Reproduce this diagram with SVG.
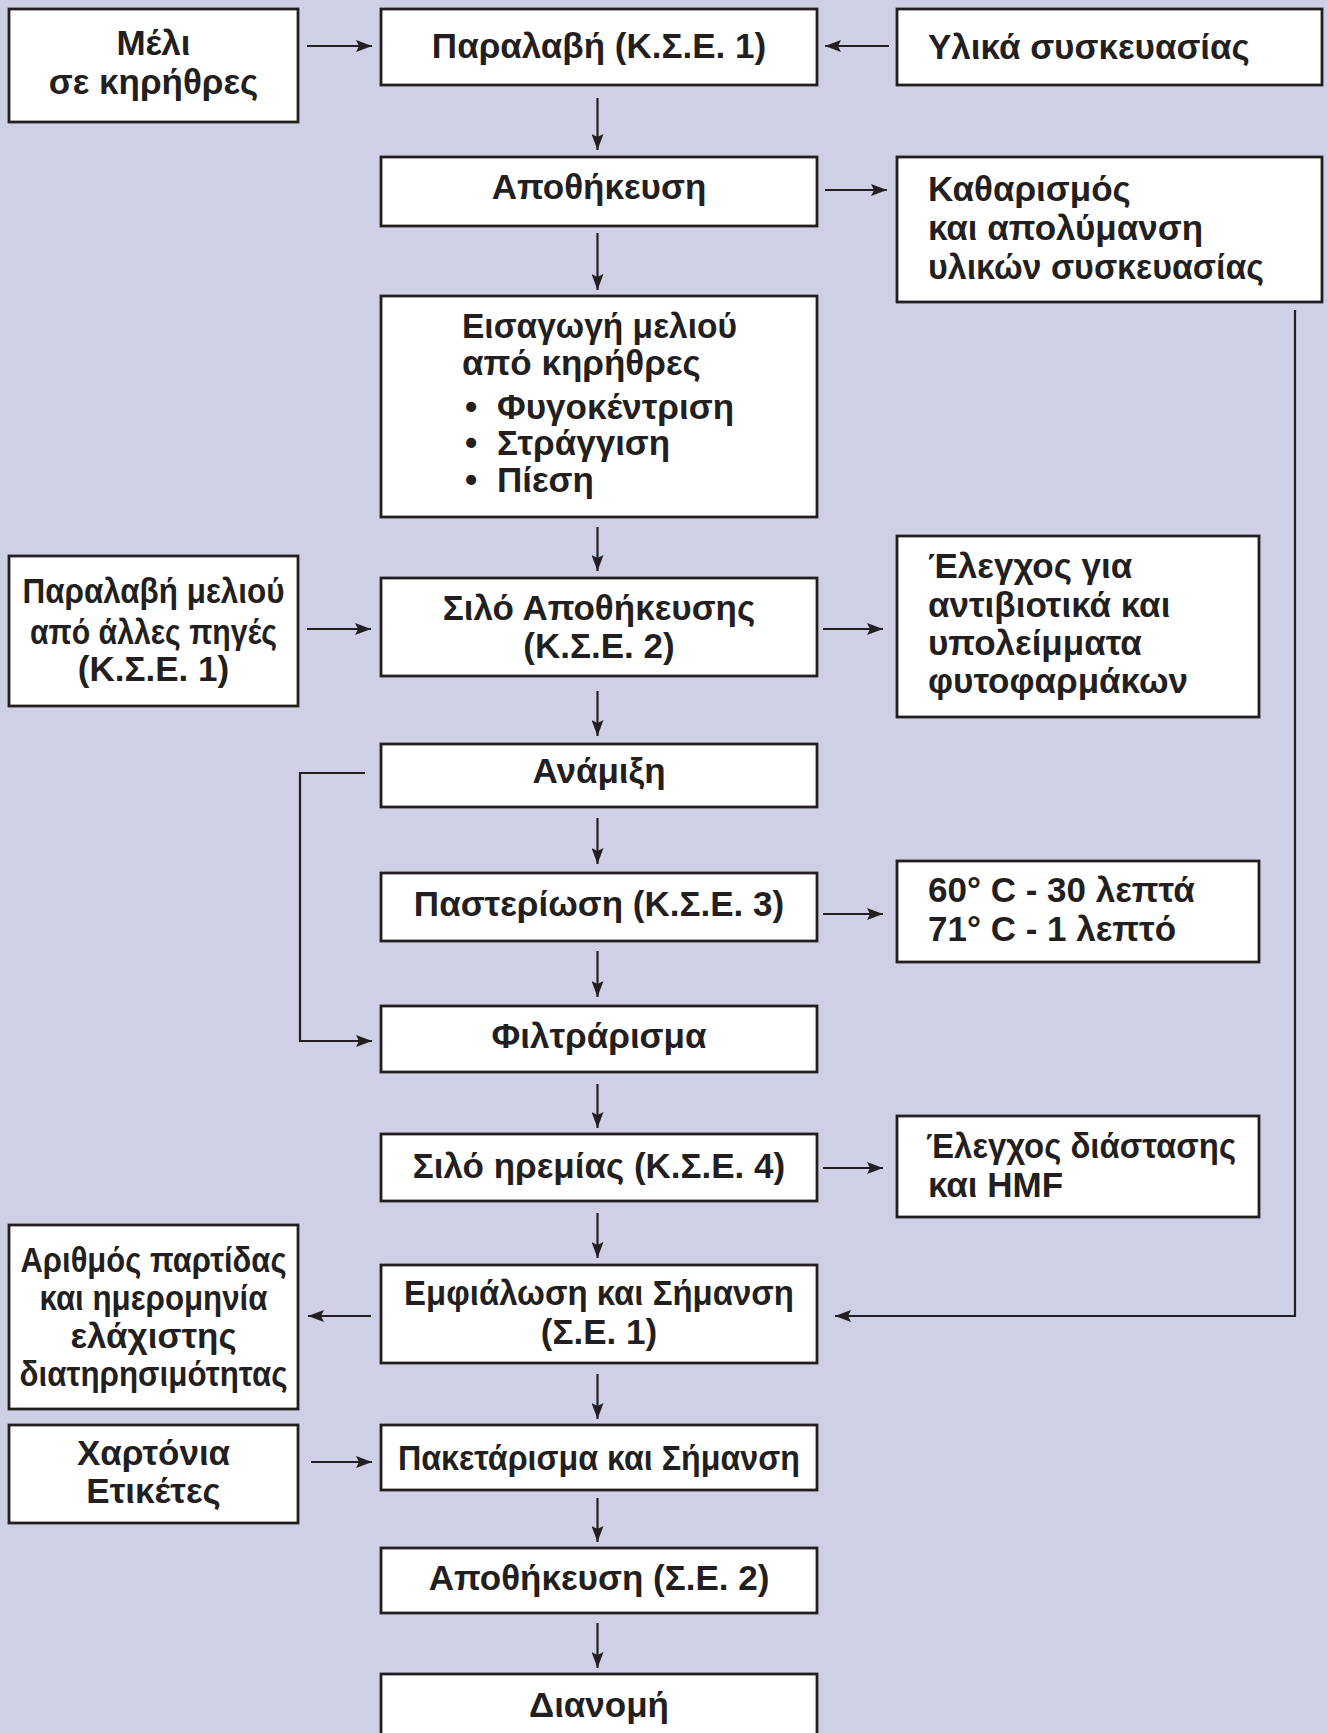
<svg xmlns="http://www.w3.org/2000/svg" width="1327" height="1733" viewBox="0 0 1327 1733">
<style>
.bg{fill:#cfd0e6}
.box{fill:#ffffff;stroke:#231f20;stroke-width:2.8}
.t{font-family:"Liberation Sans",Arial,sans-serif;font-weight:bold;font-size:35px;fill:#231f20}
.c{text-anchor:middle}
.l{text-anchor:start}
.con{fill:none;stroke:#231f20;stroke-width:2.2}
</style>
<defs>
<marker id="ah" viewBox="0 0 16 12" refX="16" refY="6" markerWidth="16" markerHeight="12" markerUnits="userSpaceOnUse" orient="auto">
<path d="M0,0 L16,6 L0,12 L3,6 z" fill="#231f20"/>
</marker>
</defs>
<rect class="bg" x="0" y="0" width="1327" height="1733"/>

<g id="connectors">
<line class="con" x1="307" y1="46" x2="372" y2="46" marker-end="url(#ah)"/>
<line class="con" x1="889" y1="46" x2="825" y2="46" marker-end="url(#ah)"/>
<line class="con" x1="597.5" y1="98" x2="597.5" y2="150" marker-end="url(#ah)"/>
<line class="con" x1="825" y1="190" x2="887" y2="190" marker-end="url(#ah)"/>
<line class="con" x1="597.5" y1="233" x2="597.5" y2="290" marker-end="url(#ah)"/>
<line class="con" x1="597.5" y1="527" x2="597.5" y2="571" marker-end="url(#ah)"/>
<line class="con" x1="307" y1="629" x2="371" y2="629" marker-end="url(#ah)"/>
<line class="con" x1="823" y1="629" x2="883" y2="629" marker-end="url(#ah)"/>
<line class="con" x1="597.5" y1="691" x2="597.5" y2="736" marker-end="url(#ah)"/>
<polyline class="con" points="365,773 300,773 300,1041 372,1041" marker-end="url(#ah)"/>
<line class="con" x1="597.5" y1="818" x2="597.5" y2="864" marker-end="url(#ah)"/>
<line class="con" x1="823" y1="914" x2="883" y2="914" marker-end="url(#ah)"/>
<line class="con" x1="597.5" y1="951" x2="597.5" y2="997" marker-end="url(#ah)"/>
<line class="con" x1="597.5" y1="1084" x2="597.5" y2="1128" marker-end="url(#ah)"/>
<line class="con" x1="823" y1="1168" x2="883" y2="1168" marker-end="url(#ah)"/>
<line class="con" x1="597.5" y1="1213" x2="597.5" y2="1258" marker-end="url(#ah)"/>
<polyline class="con" points="1295,310 1295,1316 835,1316" marker-end="url(#ah)"/>
<line class="con" x1="371" y1="1316" x2="308" y2="1316" marker-end="url(#ah)"/>
<line class="con" x1="597.5" y1="1374" x2="597.5" y2="1419" marker-end="url(#ah)"/>
<line class="con" x1="311" y1="1462" x2="372" y2="1462" marker-end="url(#ah)"/>
<line class="con" x1="597.5" y1="1498" x2="597.5" y2="1542" marker-end="url(#ah)"/>
<line class="con" x1="597.5" y1="1623" x2="597.5" y2="1668" marker-end="url(#ah)"/>
</g>

<g id="n-meli">
<rect class="box" x="9" y="9" width="289" height="113"/>
<text class="t c" x="153.5" y="55">Μέλι</text>
<text class="t c" x="153.5" y="94">σε κηρήθρες</text>
</g>
<g id="n-paralavi">
<rect class="box" x="381" y="9" width="436" height="76"/>
<text class="t c" x="599" y="58">Παραλαβή (Κ.Σ.Ε. 1)</text>
</g>
<g id="n-ylika">
<rect class="box" x="897" y="9" width="425" height="76"/>
<text class="t l" x="928" y="59">Υλικά συσκευασίας</text>
</g>
<g id="n-apothikeusi">
<rect class="box" x="381" y="157" width="436" height="69"/>
<text class="t c" x="599" y="199">Αποθήκευση</text>
</g>
<g id="n-katharismos">
<rect class="box" x="897" y="157" width="425" height="145"/>
<text class="t l" x="928" y="201">Καθαρισμός</text>
<text class="t l" x="928" y="240">και απολύμανση</text>
<text class="t l" x="928" y="279" textLength="336" lengthAdjust="spacingAndGlyphs">υλικών συσκευασίας</text>
</g>
<g id="n-eisagogi">
<rect class="box" x="381" y="296" width="436" height="221"/>
<text class="t l" x="462" y="338" textLength="275" lengthAdjust="spacingAndGlyphs">Εισαγωγή μελιού</text>
<text class="t l" x="462" y="375">από κηρήθρες</text>
<text class="t l" x="465" y="419">•</text>
<text class="t l" x="497" y="419">Φυγοκέντριση</text>
<text class="t l" x="465" y="455">•</text>
<text class="t l" x="497" y="455">Στράγγιση</text>
<text class="t l" x="465" y="492">•</text>
<text class="t l" x="497" y="492">Πίεση</text>
</g>
<g id="n-paralavi-meliou">
<rect class="box" x="9" y="556" width="289" height="150"/>
<text class="t c" x="153.5" y="603" textLength="262" lengthAdjust="spacingAndGlyphs">Παραλαβή μελιού</text>
<text class="t c" x="153.5" y="644" textLength="247" lengthAdjust="spacingAndGlyphs">από άλλες πηγές</text>
<text class="t c" x="153.5" y="681">(Κ.Σ.Ε. 1)</text>
</g>
<g id="n-silo-apothikeusis">
<rect class="box" x="381" y="578" width="436" height="98"/>
<text class="t c" x="599" y="620">Σιλό Αποθήκευσης</text>
<text class="t c" x="599" y="658">(Κ.Σ.Ε. 2)</text>
</g>
<g id="n-elegxos-antibiotika">
<rect class="box" x="897" y="536" width="362" height="181"/>
<text class="t l" x="928" y="578">Έλεγχος για</text>
<text class="t l" x="928" y="617">αντιβιοτικά και</text>
<text class="t l" x="928" y="655">υπολείμματα</text>
<text class="t l" x="928" y="693">φυτοφαρμάκων</text>
</g>
<g id="n-anamixi">
<rect class="box" x="381" y="744" width="436" height="63"/>
<text class="t c" x="599" y="783">Ανάμιξη</text>
</g>
<g id="n-pasteriosi">
<rect class="box" x="381" y="873" width="436" height="68"/>
<text class="t c" x="599" y="916">Παστερίωση (Κ.Σ.Ε. 3)</text>
</g>
<g id="n-thermokrasies">
<rect class="box" x="897" y="861" width="362" height="101"/>
<text class="t l" x="928" y="902">60° C - 30 λεπτά</text>
<text class="t l" x="928" y="941">71° C - 1 λεπτό</text>
</g>
<g id="n-filtrarisma">
<rect class="box" x="381" y="1006" width="436" height="66"/>
<text class="t c" x="599" y="1048">Φιλτράρισμα</text>
</g>
<g id="n-silo-iremias">
<rect class="box" x="381" y="1134" width="436" height="67"/>
<text class="t c" x="599" y="1178">Σιλό ηρεμίας (Κ.Σ.Ε. 4)</text>
</g>
<g id="n-elegxos-diastasis">
<rect class="box" x="897" y="1116" width="362" height="101"/>
<text class="t l" x="926" y="1158" textLength="310" lengthAdjust="spacingAndGlyphs">Έλεγχος διάστασης</text>
<text class="t l" x="928" y="1197">και HMF</text>
</g>
<g id="n-arithmos">
<rect class="box" x="9" y="1225" width="289" height="184"/>
<text class="t c" x="153.5" y="1272" textLength="266" lengthAdjust="spacingAndGlyphs">Αριθμός παρτίδας</text>
<text class="t c" x="153.5" y="1310" textLength="228" lengthAdjust="spacingAndGlyphs">και ημερομηνία</text>
<text class="t c" x="153.5" y="1348">ελάχιστης</text>
<text class="t c" x="153.5" y="1386" textLength="268" lengthAdjust="spacingAndGlyphs">διατηρησιμότητας</text>
</g>
<g id="n-emfialosi">
<rect class="box" x="381" y="1265" width="436" height="98"/>
<text class="t c" x="599" y="1305" textLength="390" lengthAdjust="spacingAndGlyphs">Εμφιάλωση και Σήμανση</text>
<text class="t c" x="599" y="1344">(Σ.Ε. 1)</text>
</g>
<g id="n-xartonia">
<rect class="box" x="9" y="1425" width="289" height="98"/>
<text class="t c" x="153.5" y="1465">Χαρτόνια</text>
<text class="t c" x="153.5" y="1503">Ετικέτες</text>
</g>
<g id="n-paketarisma">
<rect class="box" x="381" y="1425" width="436" height="65"/>
<text class="t c" x="599" y="1470" textLength="402" lengthAdjust="spacingAndGlyphs">Πακετάρισμα και Σήμανση</text>
</g>
<g id="n-apothikeusi-se2">
<rect class="box" x="381" y="1548" width="436" height="65"/>
<text class="t c" x="599" y="1590">Αποθήκευση (Σ.Ε. 2)</text>
</g>
<g id="n-dianomi">
<rect class="box" x="381" y="1674" width="436" height="80"/>
<text class="t c" x="599" y="1717">Διανομή</text>
</g>
</svg>
